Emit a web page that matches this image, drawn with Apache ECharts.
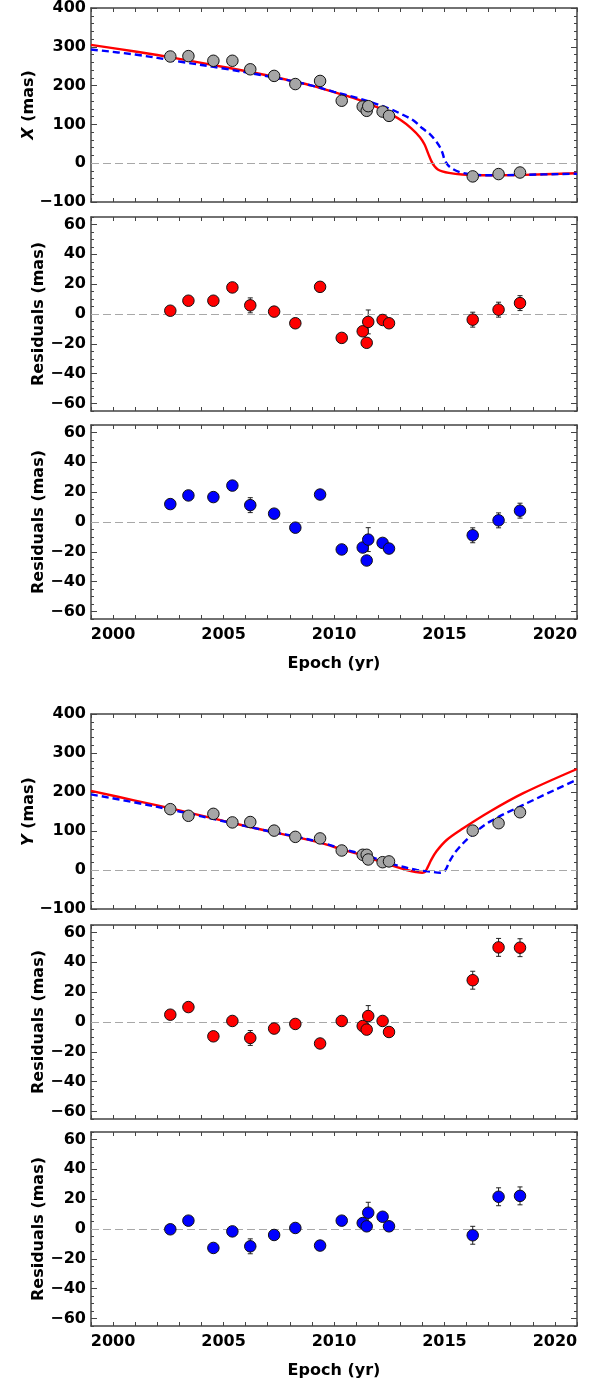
<!DOCTYPE html>
<html>
<head>
<meta charset="utf-8">
<script src="https://cdn.jsdelivr.net/npm/echarts@6/dist/echarts.min.js"></script>
<style>
html, body { margin: 0; padding: 0; background: #fff; }
#main { width: 592px; height: 1388px; }
</style>
</head>
<body>
<div id="main"></div>
<script>
// observation epochs (yr)
var epochs = [2002.59, 2003.41, 2004.54, 2005.40, 2006.21, 2007.29, 2008.25, 2009.37, 2010.35,
    2011.30, 2011.48, 2011.55, 2012.20, 2012.49, 2016.28, 2017.45, 2018.42];

// measured offsets (mas)
var obsX = [275, 276, 264, 264, 242, 225, 204, 212, 161, 146, 135, 147, 133, 122, -34, -28, -24];
var obsY = [156, 139, 144, 122, 123, 101, 85, 81, 50, 39, 39, 27, 20, 22, 101, 120, 148];

// residuals (mas)
var resXRed = [2.2, 8.9, 8.9, 17.8, 5.8, 1.6, -6.2, 18.2, -16, -11.6, -19.3, -5.3, -4, -6.2, -3.8, 2.9, 7.3];
var resXBlue = [12, 17.8, 16.7, 24.4, 11.3, 5.6, -3.8, 18.4, -18.4, -17.1, -25.8, -11.8, -14, -17.8, -8.9, 1.1, 7.6];
var resYRed = [4.9, 10, -9.6, 0.7, -10.7, -4.4, -1.3, -14.4, 0.7, -2.7, -5.1, 4, 0.7, -6.7, 28, 50, 49.8];
var resYBlue = [-0.2, 5.6, -12.7, -1.6, -11.6, -4, 0.7, -11.1, 5.6, 4, 1.8, 10.9, 8.2, 1.8, -4.2, 21.6, 22.2];

// error bars (mas)
var errX = [2, 2, 2, 2, 5, 2, 2, 2, 2, 2, 2, 8, 2, 2, 5, 5, 5];
var errY = [2, 2, 2, 2, 5, 2, 2, 2, 2, 2, 2, 7, 2, 2, 6, 6, 6];

// model curves
var xRedT = [1999, 2001, 2003, 2005, 2007, 2008, 2009, 2010, 2011, 2012, 2012.5, 2013, 2013.5, 2013.89, 2014.1,
    2014.27, 2014.42, 2014.55, 2014.7, 2014.9, 2015.2, 2015.8, 2016.5, 2017.5, 2018.6, 2021];
var xRedV = [305, 288, 269, 248, 226, 213, 200, 183, 166, 143, 128, 112, 90, 67, 48,
    24, 4, -8, -16, -21, -25, -29, -31, -31, -30, -26];
var xBlueT = [1999, 2001, 2003, 2005, 2007, 2008, 2009, 2010, 2011, 2012, 2012.53, 2013, 2013.6, 2014, 2014.34,
    2014.6, 2014.8, 2014.92, 2015.02, 2015.25, 2015.7, 2016.25, 2017, 2018.5, 2021];
var xBlueV = [293, 280, 262, 244, 224, 213, 200, 184, 169, 151, 140, 128, 110, 90, 75,
    58, 41, 25, 7, -10, -23, -29, -31, -30, -27];
var yRedT = [1999, 2001, 2003, 2005, 2007, 2008.25, 2009.37, 2010.35, 2011.48, 2012.53, 2013.29, 2013.7, 2014.0,
    2014.12, 2014.25, 2014.4, 2014.64, 2015.1, 2015.85, 2017.06, 2018.57, 2021];
var yRedV = [203, 178, 153, 126, 100, 85, 70, 53, 34, 13, 0, -5, -7,
    -5, 8, 26, 48, 77, 107, 150, 197, 259];
var yBlueT = [1999, 2001, 2003, 2005, 2007, 2008.25, 2009.37, 2010.35, 2011.48, 2012.53, 2013.74, 2014.34, 2014.8,
    2015.02, 2015.25, 2015.55, 2016.15, 2017.06, 2018.57, 2021];
var yBlueV = [194, 173, 150, 125, 100, 86, 71, 55, 37, 17, 0, -4, -7,
    -2, 24, 50, 85, 124, 167, 232];

var yearLabels = [2000, 2005, 2010, 2015, 2020];
var bigTicks = [-100, 0, 100, 200, 300, 400];
var resMajor = [-60, -40, -20, 0, 20, 40, 60];
var resMinor = [-65, -60, -55, -50, -45, -40, -35, -30, -25, -20, -15, -10, -5, 0, 5, 10, 15, 20, 25, 30, 35, 40, 45, 50, 55, 60, 65];

var FONT = "'DejaVu Sans', sans-serif";
var FSIZE = 16;
var FRAME = '#444';

var panels = [
    { top: 7, height: 195, kind: 'big', name: '{i|X} (mas)', epoch: false },
    { top: 217, height: 194, kind: 'res', name: 'Residuals (mas)', epoch: false },
    { top: 425, height: 194, kind: 'res', name: 'Residuals (mas)', epoch: true },
    { top: 714, height: 195, kind: 'big', name: '{i|Y} (mas)', epoch: false },
    { top: 925, height: 194, kind: 'res', name: 'Residuals (mas)', epoch: false },
    { top: 1132, height: 194, kind: 'res', name: 'Residuals (mas)', epoch: true }
];

function minus(v) {
    return v < 0 ? '\u2212' + (-v) : '' + v;
}

var grid = [], xAxis = [], yAxis = [], series = [];
var axisIdx = [];

for (var g = 0; g < panels.length; g++) {
    var p = panels[g];
    grid.push({ left: 91, right: 15, top: p.top, height: p.height, show: false });

    var xi = xAxis.length;
    var bx = {
        type: 'value', gridIndex: g, position: 'bottom', min: 1999, max: 2021, interval: 1,
        axisLine: { show: true, onZero: false, lineStyle: { color: FRAME, width: 1.5 } },
        axisTick: { show: true, inside: true, length: 4, lineStyle: { color: FRAME } },
        axisLabel: {
            show: p.epoch, customValues: yearLabels, margin: 8,
            formatter: function (v) { return '' + v; },
            color: '#000', fontFamily: FONT, fontWeight: 'bold', fontSize: FSIZE
        },
        splitLine: { show: false }
    };
    if (p.epoch) {
        bx.name = 'Epoch (yr)';
        bx.nameLocation = 'middle';
        bx.nameGap = 37;
        bx.nameMoveOverlap = false;
        bx.nameTextStyle = { color: '#000', fontFamily: FONT, fontWeight: 'bold', fontSize: FSIZE };
    }
    xAxis.push(bx);
    xAxis.push({
        type: 'value', gridIndex: g, position: 'top', min: 1999, max: 2021, interval: 1,
        axisLine: { show: true, onZero: false, lineStyle: { color: FRAME, width: 1.5 } },
        axisTick: { show: true, inside: true, length: 4, lineStyle: { color: FRAME } },
        axisLabel: { show: false }, splitLine: { show: false }
    });

    var yi = yAxis.length;
    var ymin = p.kind == 'big' ? -100 : -65;
    var ymax = p.kind == 'big' ? 400 : 65;
    var majors = p.kind == 'big' ? bigTicks : resMajor;
    var nameStyle = {
        color: '#000', fontFamily: FONT, fontWeight: 'bold', fontSize: FSIZE,
        rich: { i: { fontStyle: 'italic', fontWeight: 'bold', fontFamily: FONT, fontSize: FSIZE, color: '#000' } }
    };
    // left, with labels
    yAxis.push({
        type: 'value', gridIndex: g, position: 'left', min: ymin, max: ymax,
        axisLine: { show: true, onZero: false, lineStyle: { color: FRAME, width: 1.5 } },
        axisTick: { show: true, inside: true, length: 6, customValues: majors, lineStyle: { color: FRAME } },
        axisLabel: {
            customValues: majors, margin: 5, formatter: minus,
            color: '#000', fontFamily: FONT, fontWeight: 'bold', fontSize: FSIZE
        },
        splitLine: { show: false },
        name: p.name, nameLocation: 'middle', nameRotate: 90, nameMoveOverlap: false,
        nameGap: p.kind == 'big' ? 54 : 44, nameTextStyle: nameStyle
    });
    // right mirror
    yAxis.push({
        type: 'value', gridIndex: g, position: 'right', min: ymin, max: ymax,
        axisLine: { show: true, onZero: false, lineStyle: { color: FRAME, width: 1.5 } },
        axisTick: { show: true, inside: true, length: 6, customValues: majors, lineStyle: { color: FRAME } },
        axisLabel: { show: false }, splitLine: { show: false }
    });
    // minor ticks, both sides
    var minors = [];
    if (p.kind == 'big') {
        for (var m = -100; m <= 400; m += 20) minors.push(m);
    } else {
        minors = resMinor;
    }
    ['left', 'right'].forEach(function (pos) {
        yAxis.push({
            type: 'value', gridIndex: g, position: pos, min: ymin, max: ymax,
            axisLine: { show: false },
            axisTick: { show: true, inside: true, length: 3, customValues: minors, lineStyle: { color: FRAME } },
            axisLabel: { show: false }, splitLine: { show: false }
        });
    });
    axisIdx.push({ x: xi, y: yi });
}

function zeroLine(g) {
    return {
        type: 'line', xAxisIndex: axisIdx[g].x, yAxisIndex: axisIdx[g].y, data: [],
        markLine: {
            silent: true, symbol: 'none', animation: false,
            label: { show: false },
            lineStyle: { type: [8, 4], color: '#a8a8a8', width: 1.2 },
            data: [{ yAxis: 0 }]
        },
        z: 1
    };
}

function curve(g, ts, vs, color, dashed) {
    return {
        type: 'line', xAxisIndex: axisIdx[g].x, yAxisIndex: axisIdx[g].y,
        data: ts.map(function (t, i) { return [t, vs[i]]; }),
        showSymbol: false, symbol: 'none', smooth: 0.35,
        lineStyle: { color: color, width: 2.4, type: dashed ? [7, 4] : 'solid' },
        z: dashed ? 3 : 2
    };
}

function dots(g, vals, fill) {
    return {
        type: 'scatter', xAxisIndex: axisIdx[g].x, yAxisIndex: axisIdx[g].y,
        data: epochs.map(function (t, i) { return [t, vals[i]]; }),
        symbol: 'circle', symbolSize: 11.5,
        itemStyle: { color: fill, borderColor: '#111', borderWidth: 1, opacity: 1 },
        z: 5
    };
}

function errBars(g, vals, errs) {
    return {
        type: 'custom', xAxisIndex: axisIdx[g].x, yAxisIndex: axisIdx[g].y,
        data: epochs.map(function (t, i) { return [t, vals[i] - errs[i], vals[i] + errs[i]]; }),
        renderItem: function (params, api) {
            var lo = api.coord([api.value(0), api.value(1)]);
            var hi = api.coord([api.value(0), api.value(2)]);
            var w = 2.5;
            var st = { stroke: '#222', lineWidth: 1 };
            return {
                type: 'group', children: [
                    { type: 'line', shape: { x1: lo[0], y1: lo[1], x2: hi[0], y2: hi[1] }, style: st },
                    { type: 'line', shape: { x1: lo[0] - w, y1: lo[1], x2: lo[0] + w, y2: lo[1] }, style: st },
                    { type: 'line', shape: { x1: hi[0] - w, y1: hi[1], x2: hi[0] + w, y2: hi[1] }, style: st }
                ]
            };
        },
        z: 4
    };
}

// X panel
series.push(zeroLine(0));
series.push(curve(0, xRedT, xRedV, '#ff0000', false));
series.push(curve(0, xBlueT, xBlueV, '#0000ff', true));
series.push(dots(0, obsX, '#a6a6a6'));
// X residuals
series.push(zeroLine(1));
series.push(errBars(1, resXRed, errX));
series.push(dots(1, resXRed, '#ff0000'));
series.push(zeroLine(2));
series.push(errBars(2, resXBlue, errX));
series.push(dots(2, resXBlue, '#0000ff'));
// Y panel
series.push(zeroLine(3));
series.push(curve(3, yRedT, yRedV, '#ff0000', false));
series.push(curve(3, yBlueT, yBlueV, '#0000ff', true));
series.push(dots(3, obsY, '#a6a6a6'));
// Y residuals
series.push(zeroLine(4));
series.push(errBars(4, resYRed, errY));
series.push(dots(4, resYRed, '#ff0000'));
series.push(zeroLine(5));
series.push(errBars(5, resYBlue, errY));
series.push(dots(5, resYBlue, '#0000ff'));

var myChart = echarts.init(document.getElementById('main'), null, { renderer: 'canvas' });
myChart.setOption({
    animation: false,
    backgroundColor: '#fff',
    grid: grid,
    xAxis: xAxis,
    yAxis: yAxis,
    series: series
});
</script>
</body>
</html>
